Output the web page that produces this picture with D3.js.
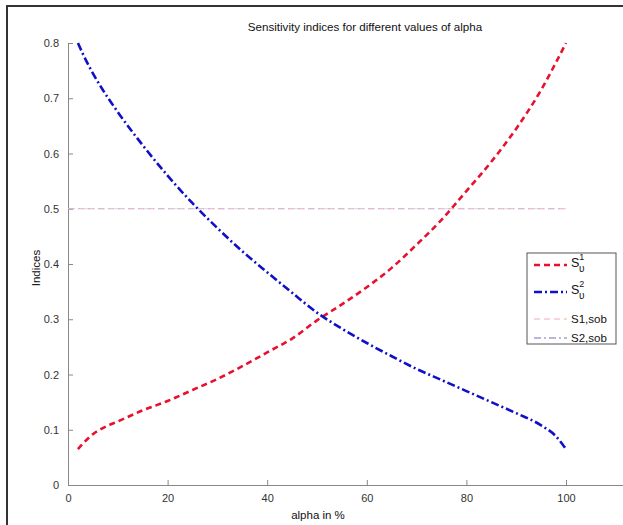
<!DOCTYPE html>
<html>
<head>
<meta charset="utf-8">
<script src="https://cdn.jsdelivr.net/npm/d3@7"></script>
<style>
  body { margin: 0; background: #fff; }
  text { font-family: "Liberation Sans", Arial, sans-serif; }
</style>
</head>
<body>
<div class="chart"></div>
<script>
// values
var alpha = [2, 3, 5, 7, 10, 15, 20, 25, 30, 35, 40, 45, 50, 55, 60, 65, 70, 75, 80, 85, 90, 95, 98, 100];
var s1 = [0.065, 0.075, 0.092, 0.103, 0.115, 0.135, 0.152, 0.172, 0.192, 0.215, 0.24, 0.265, 0.298, 0.327, 0.358, 0.393, 0.435, 0.48, 0.532, 0.585, 0.645, 0.715, 0.765, 0.8];
var s2 = [0.8, 0.78, 0.745, 0.715, 0.675, 0.615, 0.56, 0.51, 0.465, 0.423, 0.385, 0.348, 0.312, 0.283, 0.257, 0.233, 0.21, 0.19, 0.17, 0.15, 0.13, 0.108, 0.088, 0.065];
var sobAlpha = [0, 100];
var s1sob = [0.5, 0.5];
var s2sob = [0.5, 0.5];
var xTicks = [0, 20, 40, 60, 80, 100];
var yTicks = [0, 0.1, 0.2, 0.3, 0.4, 0.5, 0.6, 0.7, 0.8];

var W = 623, H = 525;

var xScale = d3.scaleLinear().domain([0, 100]).range([68, 566]);
var yScale = d3.scaleLinear().domain([0, 0.8]).range([485, 43]);

var svg = d3.select('.chart')
  .append('svg')
  .attr('width', W)
  .attr('height', H);

// screenshot frame
svg.append('path')
  .attr('d', 'M7,' + H + 'V6H' + W)
  .attr('fill', 'none')
  .attr('stroke', '#333')
  .attr('stroke-width', 2);

var xAxisScale = xScale.copy().domain([0, 112]).range([68, xScale(112)]);

var xAxis = svg.append('g')
  .attr('transform', 'translate(0,485)')
  .call(d3.axisBottom(xAxisScale).tickValues(xTicks).tickSize(-5).tickSizeOuter(0).tickPadding(9));

var yAxis = svg.append('g')
  .attr('transform', 'translate(68,0)')
  .call(d3.axisLeft(yScale).tickValues(yTicks).tickSize(-5).tickSizeOuter(0).tickPadding(9)
    .tickFormat(function (d) { return d === 0 ? '0' : d3.format('.1f')(d); }));

[xAxis, yAxis].forEach(function (a) {
  a.select('.domain').attr('stroke', '#888');
  a.selectAll('.tick line').attr('stroke', '#888');
  a.selectAll('.tick text').attr('fill', '#333').style('font-size', '11px')
    .style('font-family', '"Liberation Sans", Arial, sans-serif');
});

var line = d3.line()
  .curve(d3.curveMonotoneX)
  .x(function (d) { return xScale(d[0]); })
  .y(function (d) { return yScale(d[1]); });

function zipData(xs, ys) { return xs.map(function (x, i) { return [x, ys[i]]; }); }

svg.append('path')
  .attr('d', line(zipData(sobAlpha, s1sob)))
  .attr('fill', 'none').attr('stroke', '#f0a8b8').attr('stroke-width', 1)
  .attr('stroke-dasharray', '6,4');

svg.append('path')
  .attr('d', line(zipData(sobAlpha, s2sob)))
  .attr('fill', 'none').attr('stroke', '#b8b8e0').attr('stroke-width', 1)
  .attr('stroke-dasharray', '7,3,2,3').attr('opacity', 0.6);

svg.append('path')
  .attr('d', line(zipData(alpha, s1)))
  .attr('fill', 'none').attr('stroke', '#e8102e').attr('stroke-width', 2.6)
  .attr('stroke-dasharray', '6,4');

svg.append('path')
  .attr('d', line(zipData(alpha, s2)))
  .attr('fill', 'none').attr('stroke', '#1010c8').attr('stroke-width', 2.6)
  .attr('stroke-dasharray', '8,3,2,3');

// title and axis labels
svg.append('text')
  .attr('x', 365).attr('y', 31)
  .attr('text-anchor', 'middle')
  .style('font-size', '11.6px').attr('fill', '#111')
  .text('Sensitivity indices for different values of alpha');

svg.append('text')
  .attr('x', 318).attr('y', 519)
  .attr('text-anchor', 'middle')
  .style('font-size', '11.5px').attr('fill', '#111')
  .text('alpha in %');

svg.append('text')
  .attr('transform', 'translate(40,268) rotate(-90)')
  .attr('text-anchor', 'middle')
  .style('font-size', '11.5px').attr('fill', '#111')
  .text('Indices');

// legend
var legend = svg.append('g').attr('transform', 'translate(527,253)');
legend.append('rect')
  .attr('width', 89).attr('height', 91)
  .attr('fill', '#fff').attr('stroke', '#555').attr('stroke-width', 1);

var legendItems = [
  { y: 12, color: '#e8102e', width: 2.6, dash: '6,4', sup: '1' },
  { y: 39, color: '#1010c8', width: 2.6, dash: '8,3,2,3', sup: '2' },
  { y: 66, color: '#f0a8b8', width: 1, dash: '6,4', label: 'S1,sob' },
  { y: 85, color: '#7070c0', width: 1, dash: '7,3,2,3', label: 'S2,sob' }
];

legendItems.forEach(function (d) {
  legend.append('line')
    .attr('x1', 7).attr('x2', 40).attr('y1', d.y).attr('y2', d.y)
    .attr('stroke', d.color).attr('stroke-width', d.width)
    .attr('stroke-dasharray', d.dash);
  if (d.label) {
    legend.append('text')
      .attr('x', 44).attr('y', d.y + 4)
      .style('font-size', '11.5px').attr('fill', '#111')
      .text(d.label);
  } else {
    var t = legend.append('text')
      .attr('x', 44).attr('y', d.y + 2)
      .style('font-size', '12.5px').attr('fill', '#111');
    t.append('tspan').text('S');
    t.append('tspan').attr('dy', -7).style('font-size', '9px').text(d.sup);
    t.append('tspan').attr('x', 52).attr('dy', 12).style('font-size', '10px').text('υ');
  }
});
</script>
</body>
</html>
